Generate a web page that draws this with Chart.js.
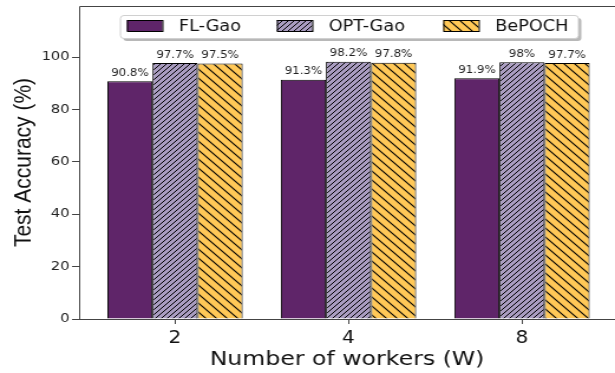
<!DOCTYPE html>
<html>
<head>
<meta charset="utf-8">
<script src="https://cdn.jsdelivr.net/npm/chart.js@4"></script>
<style>
  html, body { margin: 0; padding: 0; background: #fff; overflow: hidden; }
  /* the figure is drawn narrow and widened horizontally */
  #wrap { width: 521px; height: 373px; transform: scale(1.1804, 1); transform-origin: 0 0; }
  #chartCanvas { width: 521px; height: 373px; }
</style>
</head>
<body>
<div id="wrap"><canvas id="chartCanvas" width="521" height="373"></canvas></div>
<script>
// --- data ---
const workers = ["2", "4", "8"];
const seriesNames = ["FL-Gao", "OPT-Gao", "BePOCH"];
const flGao = [90.8, 91.3, 91.9];
const optGao = [97.7, 98.2, 98];
const bepoch = [97.5, 97.8, 97.7];
const yTicks = [0, 20, 40, 60, 80, 100];

// --- hatch patterns ---
function hatch(bg, size, dir, lw) {
  const c = document.createElement("canvas");
  c.width = size; c.height = size;
  const g = c.getContext("2d");
  g.fillStyle = bg;
  g.fillRect(0, 0, size, size);
  g.strokeStyle = "#000";
  g.lineWidth = lw;
  g.beginPath();
  if (dir === "/") {
    g.moveTo(-1, size + 1); g.lineTo(size + 1, -1);
    g.moveTo(-1, 1); g.lineTo(1, -1);
    g.moveTo(size - 1, size + 1); g.lineTo(size + 1, size - 1);
  } else {
    g.moveTo(-1, -1); g.lineTo(size + 1, size + 1);
    g.moveTo(size - 1, -1); g.lineTo(size + 1, 1);
    g.moveTo(-1, size - 1); g.lineTo(1, size + 1);
  }
  g.stroke();
  return g.createPattern(c, "repeat");
}

const fills = [
  "#5f2569",
  hatch("#a99cc0", 5, "/", 1),
  hatch("#ffc857", 9, "\\", 1.1)
];

const toPoints = arr => arr.map((v, i) => ({ x: i, y: v }));

// frame lines (top / left / bottom), no right spine
const framePlugin = {
  id: "frame",
  afterDraw(chart) {
    const { ctx, chartArea: a } = chart;
    ctx.save();
    ctx.strokeStyle = "#444";
    ctx.lineWidth = 1;
    ctx.beginPath();
    ctx.moveTo(a.left + 0.5, a.bottom + 0.5);
    ctx.lineTo(a.left + 0.5, a.top + 0.5);
    ctx.lineTo(a.right, a.top + 0.5);
    ctx.moveTo(a.left, a.bottom + 0.5);
    ctx.lineTo(a.right, a.bottom + 0.5);
    ctx.stroke();
    ctx.restore();
  }
};

// percentage labels above each bar
const valueLabels = {
  id: "valueLabels",
  afterDatasetsDraw(chart) {
    const { ctx } = chart;
    ctx.save();
    ctx.font = "10px 'DejaVu Sans'";
    ctx.fillStyle = "#222";
    ctx.textAlign = "center";
    ctx.textBaseline = "bottom";
    chart.data.datasets.forEach((ds, di) => {
      chart.getDatasetMeta(di).data.forEach((bar, i) => {
        ctx.fillText(ds.data[i].y + "%", bar.x, bar.y - 3);
      });
    });
    ctx.restore();
  }
};

// boxed legend inside the plot
const boxLegend = {
  id: "boxLegend",
  afterDraw(chart) {
    const { ctx } = chart;
    const x = 101.5, y = 15, w = 388, h = 23;
    ctx.save();
    ctx.fillStyle = "#b8b8b8";
    ctx.beginPath();
    ctx.roundRect(x + 3, y + 3, w, h, 3);
    ctx.fill();
    ctx.fillStyle = "#fff";
    ctx.strokeStyle = "#d0d0d0";
    ctx.lineWidth = 1;
    ctx.beginPath();
    ctx.roundRect(x + 0.5, y + 0.5, w, h, 3);
    ctx.fill();
    ctx.stroke();

    const swatchX = [107.5, 234.5, 375.5];
    const textX = [151.5, 278.5, 419.5];
    ctx.font = "15px 'DejaVu Sans'";
    ctx.textBaseline = "middle";
    ctx.textAlign = "left";
    chart.data.datasets.forEach((ds, i) => {
      ctx.fillStyle = ds.backgroundColor;
      ctx.fillRect(swatchX[i], y + 5, 30, 11);
      ctx.strokeStyle = "#000";
      ctx.strokeRect(swatchX[i] + 0.5, y + 5.5, 30, 11);
      ctx.fillStyle = "#111";
      ctx.fillText(ds.label, textX[i], y + h / 2 + 1);
    });
    ctx.restore();
  }
};

new Chart(document.getElementById("chartCanvas"), {
  type: "bar",
  data: {
    datasets: [flGao, optGao, bepoch].map((vals, i) => ({
      label: seriesNames[i],
      data: toPoints(vals),
      backgroundColor: fills[i],
      borderColor: "#000",
      borderWidth: 1,
      borderSkipped: "bottom"
    }))
  },
  options: {
    responsive: false,
    animation: false,
    layout: { padding: { top: 6, right: 0, left: 0, bottom: 0 } },
    categoryPercentage: 0.78,
    barPercentage: 1,
    plugins: {
      legend: { display: false },
      tooltip: { enabled: false }
    },
    scales: {
      x: {
        type: "linear",
        offset: false,
        min: -0.553,
        max: 2.536,
        afterBuildTicks: s => { s.ticks = workers.map((_, i) => ({ value: i })); },
        afterFit: s => { s.height = 54; s.paddingLeft = 0; s.paddingRight = 0; },
        border: { display: false },
        grid: { offset: false, drawOnChartArea: false, drawTicks: true, tickLength: 5, color: "#444" },
        ticks: {
          callback: v => workers[v] ?? "",
          color: "#111",
          font: { family: "DejaVu Sans", size: 17 },
          padding: 4,
          maxRotation: 0
        },
        title: {
          display: true,
          text: "Number of workers (W)",
          color: "#111",
          font: { family: "DejaVu Sans", size: 20 },
          padding: { top: 0, bottom: 1 }
        }
      },
      y: {
        min: 0,
        max: 119.5,
        afterBuildTicks: s => { s.ticks = yTicks.map(v => ({ value: v })); },
        afterFit: s => { s.width = 67; s.paddingTop = 0; s.paddingBottom = 0; },
        border: { display: false },
        grid: {
          drawOnChartArea: false,
          drawTicks: true,
          tickLength: 6,
          color: "#444"
        },
        ticks: {
          color: "#222",
          font: { family: "DejaVu Sans", size: 12.5 },
          padding: 2
        },
        title: {
          display: true,
          text: "Test Accuracy (%)",
          color: "#111",
          font: { family: "Liberation Sans", size: 21 },
          padding: { top: 8, bottom: 0 }
        }
      }
    }
  },
  plugins: [framePlugin, valueLabels, boxLegend]
});
</script>
</body>
</html>
